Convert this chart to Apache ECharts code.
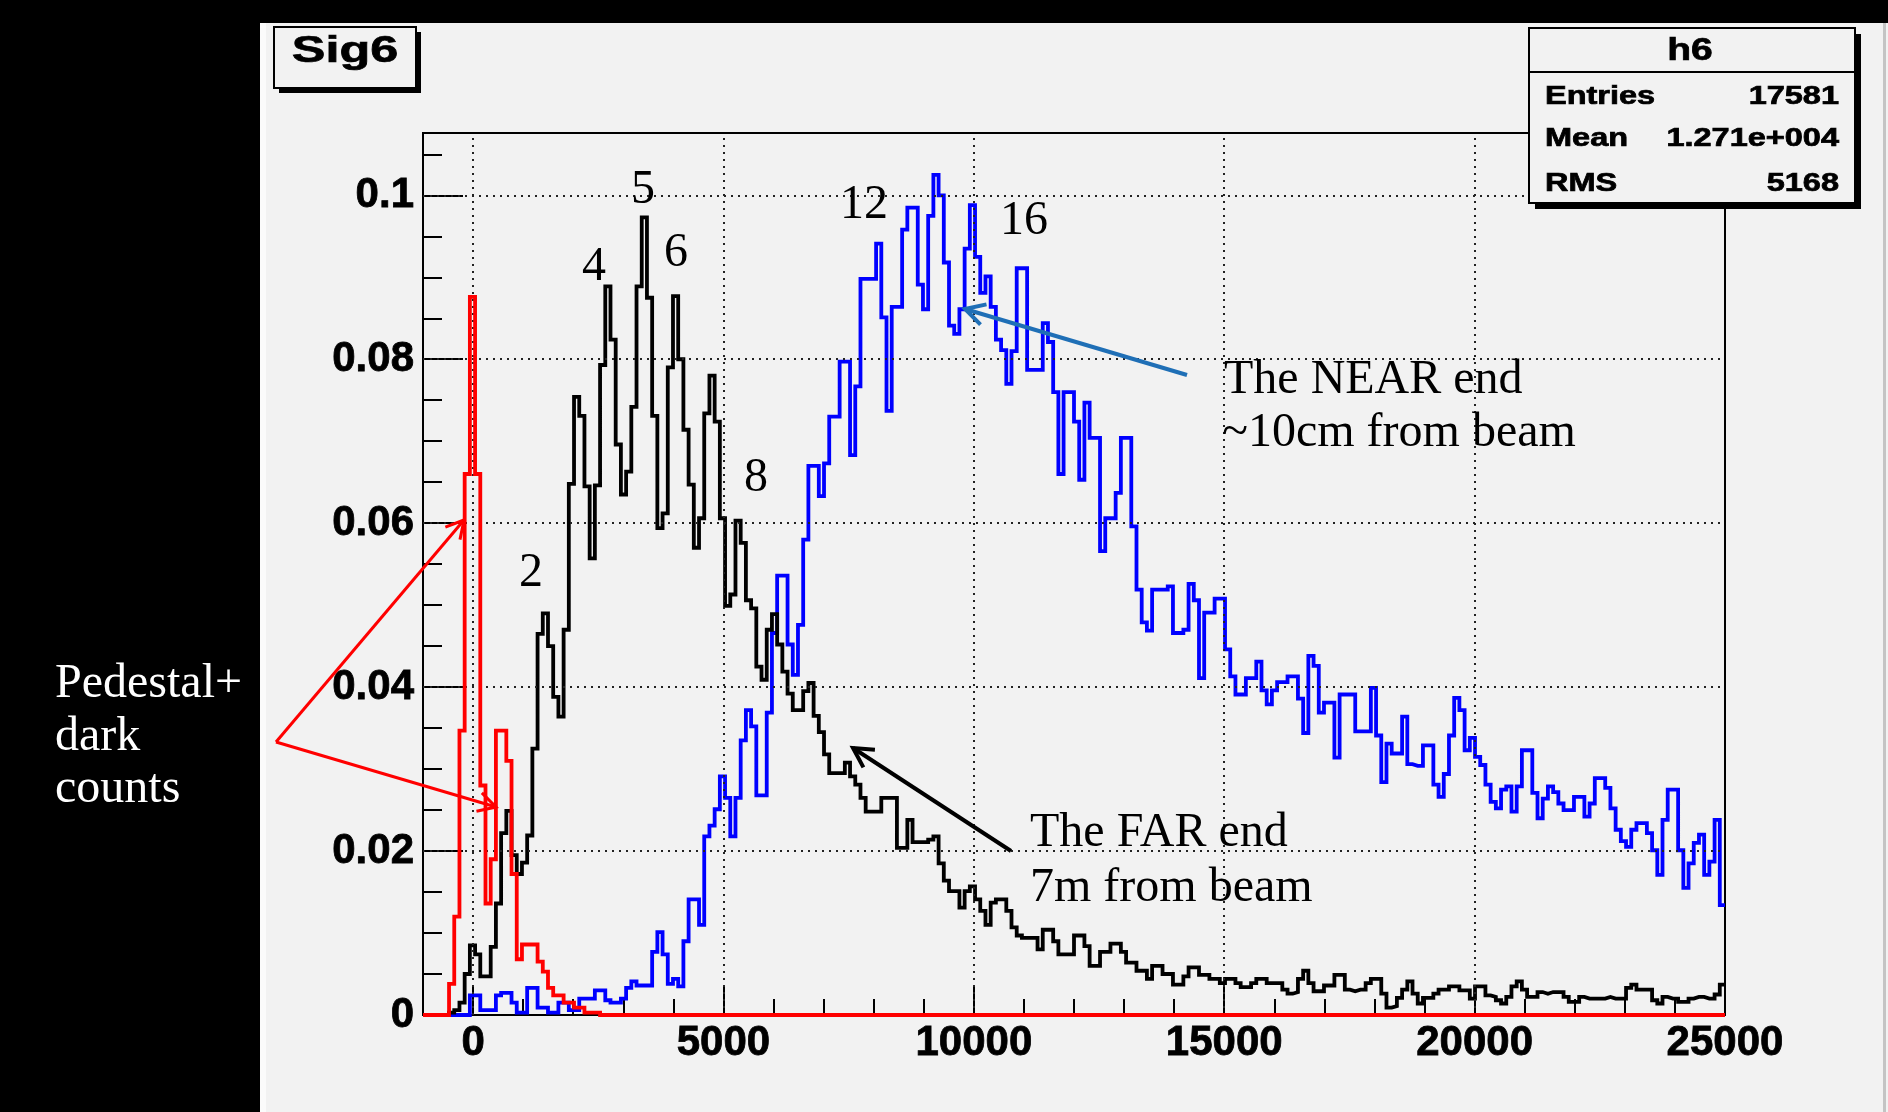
<!DOCTYPE html>
<html>
<head>
<meta charset="utf-8">
<script src="https://cdn.jsdelivr.net/npm/echarts@6/dist/echarts.min.js"></script>
<style>
html,body{margin:0;padding:0;background:#000;overflow:hidden;}
#c{width:1888px;height:1112px;}
</style>
</head>
<body>
<div id="c"></div>
<script>
// ---------------- data ----------------
const X_MIN = -1000, X_MAX = 25000, BIN_WIDTH = 104;
const Y_MIN = 0, Y_MAX = 0.1076;
const xTickLabels = ['0', '5000', '10000', '15000', '20000', '25000'];
const yTickLabels = ['0', '0.02', '0.04', '0.06', '0.08', '0.1'];
const histTitle = 'Sig6';
const statsName = 'h6';
const statsKeys = ['Entries', 'Mean', 'RMS'];
const statsValues = ['17581', '1.271e+004', '5168'];
const peakLabels = ['2', '4', '5', '6', '8', '12', '16'];

// red: pedestal + dark counts (250 bins of 104 from -1000)
const pedestalRed = [
0,0,0,0,0,0.0038,0.012,0.0347,0.066,0.0876,
0.066,0.028,0.0136,0.019,0.0347,0.0347,0.031,0.0172,0.0068,0.0086,
0.0086,0.0086,0.0065,0.0053,0.0033,0.0024,0.0024,0.0015,0.0015,0.0009,
0.0009,0.0003,0.0003,0.0003,0,0,0,0,0,0,
0,0,0,0,0,0,0,0,0,0,0,0,0,0,0,0,0,0,0,0,0,0,0,0,0,0,0,0,0,0,
0,0,0,0,0,0,0,0,0,0,0,0,0,0,0,0,0,0,0,0,0,0,0,0,0,0,0,0,0,0,
0,0,0,0,0,0,0,0,0,0,0,0,0,0,0,0,0,0,0,0,0,0,0,0,0,0,0,0,0,0,
0,0,0,0,0,0,0,0,0,0,0,0,0,0,0,0,0,0,0,0,0,0,0,0,0,0,0,0,0,0,
0,0,0,0,0,0,0,0,0,0,0,0,0,0,0,0,0,0,0,0,0,0,0,0,0,0,0,0,0,0,
0,0,0,0,0,0,0,0,0,0,0,0,0,0,0,0,0,0,0,0,0,0,0,0,0,0,0,0,0,0,
0,0,0,0,0,0,0,0,0,0,0,0,0,0,0,0,0,0,0,0,0,0,0,0,0,0,0,0,0,0
];
// black: the FAR end, 7m from beam
const farEndBlack = [
0,0,0,0,0,0.0003,0.0006,0.0015,0.005,0.0085,
0.0074,0.0047,0.0047,0.0083,0.0136,0.0222,0.0249,0.0195,0.0172,0.0186,
0.0219,0.0325,0.0465,0.049,0.045,0.0388,0.0364,0.047,0.0648,0.0754,
0.0731,0.0645,0.0557,0.0646,0.0793,0.0889,0.0824,0.0696,0.0635,0.0663,
0.0742,0.0889,0.0973,0.0875,0.0731,0.0594,0.0612,0.079,0.0877,0.080,
0.0714,0.0647,0.057,0.0606,0.0734,0.078,0.0724,0.0606,0.0499,0.0513,
0.0603,0.0576,0.0506,0.0496,0.0425,0.0409,0.047,0.0489,0.0452,0.0419,
0.0392,0.0372,0.0372,0.0395,0.0405,0.0365,0.0345,0.0318,0.0295,0.0295,
0.0295,0.0308,0.0291,0.0281,0.0265,0.0248,0.0248,0.0248,0.0265,0.0265,
0.0265,0.0204,0.0204,0.0238,0.0211,0.0211,0.0211,0.0214,0.0218,0.0185,
0.0164,0.0151,0.0151,0.0131,0.0151,0.0157,0.0141,0.0127,0.011,0.0137,
0.0141,0.0141,0.0127,0.0107,0.0097,0.0094,0.0094,0.0094,0.008,0.0104,
0.0104,0.009,0.0074,0.0074,0.0074,0.0097,0.0097,0.0084,0.006,0.006,
0.0077,0.0077,0.0087,0.0087,0.0077,0.0064,0.0064,0.0054,0.0054,0.0044,
0.006,0.006,0.005,0.005,0.0037,0.0037,0.0047,0.0058,0.0058,0.0049,
0.0049,0.0044,0.0044,0.0039,0.0044,0.0044,0.0039,0.0034,0.0034,0.0039,
0.0044,0.0044,0.0039,0.0039,0.0039,0.0031,0.0026,0.0028,0.0044,0.0054,
0.0039,0.0029,0.0029,0.0036,0.0036,0.0049,0.0049,0.0031,0.0029,0.0031,
0.0031,0.0039,0.0044,0.0044,0.0026,0.0009,0.0011,0.0021,0.0031,0.0041,
0.0026,0.0014,0.0021,0.0021,0.0026,0.0031,0.0031,0.0035,0.0035,0.003,
0.003,0.002,0.0035,0.0035,0.0024,0.0022,0.0018,0.0014,0.0022,0.0035,
0.0041,0.0031,0.0022,0.0022,0.0028,0.0026,0.0028,0.0028,0.0028,0.0022,
0.0016,0.0016,0.0022,0.002,0.002,0.002,0.002,0.0022,0.002,0.002,
0.002,0.0033,0.0037,0.0031,0.0031,0.0031,0.0018,0.0014,0.0022,0.002,
0.002,0.0016,0.0016,0.002,0.0022,0.0022,0.002,0.002,0.0025,0.0037
];
// blue: the NEAR end, ~10cm from beam
const nearEndBlue = [
0,0,0,0,0,0,0,0,0,0.0024,
0.0024,0.0006,0.0006,0.0006,0.0024,0.0027,0.0027,0.0015,0.0003,0.0003,
0.0033,0.0033,0.0009,0.0009,0.0003,0.0003,0.0015,0.0015,0.0006,0.0006,
0.002,0.002,0.002,0.003,0.003,0.0018,0.0015,0.0015,0.002,0.0033,
0.0041,0.0036,0.0036,0.0036,0.0077,0.0101,0.0074,0.0038,0.0044,0.0035,
0.009,0.0141,0.0141,0.011,0.0218,0.0231,0.0251,0.0291,0.0265,0.0218,
0.0265,0.0335,0.0372,0.0352,0.0268,0.0268,0.0369,0.0466,0.0536,0.0536,
0.0452,0.0415,0.0476,0.058,0.067,0.067,0.0633,0.0673,0.073,0.073,
0.0797,0.0797,0.0683,0.0767,0.0898,0.0898,0.0898,0.0941,0.0851,0.0737,
0.0864,0.0864,0.0958,0.0985,0.0985,0.0891,0.0861,0.0975,0.1025,0.1,
0.0918,0.0841,0.0831,0.0861,0.0935,0.0988,0.0925,0.0881,0.0901,0.0864,
0.0824,0.0811,0.077,0.081,0.0911,0.0911,0.0787,0.0787,0.0787,0.0844,
0.0821,0.076,0.066,0.076,0.076,0.0724,0.0653,0.0747,0.0704,0.0704,
0.0566,0.0606,0.0606,0.0637,0.0704,0.0704,0.0596,0.0519,0.0479,0.0469,
0.0519,0.0519,0.0519,0.0523,0.0466,0.0466,0.047,0.0526,0.0506,0.0411,
0.0491,0.0491,0.0508,0.0508,0.0446,0.0413,0.0391,0.0391,0.0411,0.0411,
0.0431,0.0396,0.0379,0.0396,0.0406,0.0406,0.0413,0.0413,0.0386,0.0344,
0.0438,0.0426,0.0369,0.0381,0.0381,0.0314,0.0391,0.0391,0.0391,0.0346,
0.0346,0.0346,0.0399,0.0341,0.0284,0.0331,0.0319,0.0319,0.0364,0.0306,
0.0304,0.0304,0.0329,0.0329,0.0281,0.0266,0.0294,0.0341,0.0387,0.0372,
0.0323,0.0338,0.0315,0.0305,0.0281,0.026,0.0252,0.0275,0.0279,0.0248,
0.0279,0.0323,0.0323,0.0271,0.024,0.0264,0.0279,0.0272,0.0258,0.025,
0.025,0.0266,0.0266,0.0242,0.0258,0.0289,0.0289,0.0277,0.0252,0.0226,
0.0212,0.0205,0.0226,0.0234,0.0234,0.0222,0.0201,0.0171,0.0238,0.0275,
0.0275,0.0201,0.0155,0.0185,0.021,0.022,0.0171,0.0187,0.0238,0.0134
];

// ---------------- layout / style ----------------
const SANS = '"Liberation Sans", Arial, sans-serif';
const SERIF = '"Liberation Serif", "Times New Roman", serif';
const PANEL_BG = '#f2f2f2';
const GRID = {left: 423, top: 133, width: 1302, height: 882};
const HIST_LINE_WIDTH = 3.8;
const peakLabelPos = [[531,573],[594,267],[643,190],[676,253],[756,478],[864,205],[1024,221]];

function stepPoints(vals) {
  const pts = vals.map((v, i) => [X_MIN + i * BIN_WIDTH, v]);
  pts.push([X_MIN + vals.length * BIN_WIDTH, vals[vals.length - 1]]);
  return pts;
}
function histSeries(name, vals, color, z) {
  return {
    name, type: 'line', step: 'end', data: stepPoints(vals),
    symbol: 'none', showSymbol: false, clip: true, silent: true, z,
    lineStyle: {color, width: HIST_LINE_WIDTH, join: 'miter', cap: 'butt'},
    emphasis: {disabled: true}, animation: false
  };
}
function arrow(x1, y1, x2, y2, color, width, headLen) {
  const ang = Math.atan2(y2 - y1, x2 - x1), a = 0.5;
  const h1 = [x2 - headLen * Math.cos(ang - a), y2 - headLen * Math.sin(ang - a)];
  const h2 = [x2 - headLen * Math.cos(ang + a), y2 - headLen * Math.sin(ang + a)];
  return [
    {type: 'polyline', z: 100, silent: true, shape: {points: [[x1, y1], [x2, y2]]},
     style: {stroke: color, lineWidth: width, fill: null}},
    {type: 'polyline', z: 100, silent: true, shape: {points: [h1, [x2, y2], h2]},
     style: {stroke: color, lineWidth: width, fill: null, lineJoin: 'miter'}}
  ];
}
function txt(text, x, y, opts) {
  return Object.assign({type: 'text', x, y, z: 100, silent: true,
    style: Object.assign({text, fill: '#000', verticalAlign: 'middle', align: 'left',
      fontFamily: SERIF, fontSize: 48}, opts.style || {})}, opts.el || {});
}
const boldSans = (size, extra) => Object.assign({fontFamily: SANS, fontWeight: 'bold', fontSize: size,
  stroke: '#000', lineWidth: 0.7}, extra || {});

const xTickValues = xTickLabels.map(Number);
const yTickValues = yTickLabels.map(Number);
const lineBlack = {color: '#000', width: 2};
const tickLabelStyle = {color: '#000', fontFamily: SANS, fontWeight: 'bold', fontSize: 42,
  textBorderColor: '#000', textBorderWidth: 0.8};

const graphics = [];
// panel background
graphics.push({type: 'rect', z: -100, silent: true, shape: {x: 260, y: 23, width: 1628, height: 1089}, style: {fill: PANEL_BG}});
graphics.push({type: 'rect', z: -99, silent: true, shape: {x: 260, y: 23, width: 6, height: 1089}, style: {fill: '#fbfbfb'}});
graphics.push({type: 'rect', z: -99, silent: true, shape: {x: 1883, y: 23, width: 3, height: 1089}, style: {fill: '#c4c4c4'}});
// title box
graphics.push({type: 'rect', z: 90, silent: true, shape: {x: 279, y: 32, width: 142, height: 61}, style: {fill: '#000'}});
graphics.push({type: 'rect', z: 91, silent: true, shape: {x: 274, y: 27, width: 142, height: 61}, style: {fill: PANEL_BG, stroke: '#000', lineWidth: 2}});
graphics.push(txt(histTitle, 345, 52, {el: {scaleX: 1.36}, style: boldSans(37, {align: 'center'})}));
// stats box
graphics.push({type: 'rect', z: 90, silent: true, shape: {x: 1535, y: 34, width: 326, height: 175}, style: {fill: '#000'}});
graphics.push({type: 'rect', z: 91, silent: true, shape: {x: 1529, y: 28, width: 326, height: 175}, style: {fill: PANEL_BG, stroke: '#000', lineWidth: 2}});
graphics.push({type: 'line', z: 92, silent: true, shape: {x1: 1529, y1: 72, x2: 1855, y2: 72}, style: {stroke: '#000', lineWidth: 2}});
graphics.push(txt(statsName, 1690, 51, {el: {scaleX: 1.22}, style: boldSans(32, {align: 'center'})}));
const statsRowY = [97, 139, 184];
statsKeys.forEach((k, i) => {
  graphics.push(txt(k, 1545, statsRowY[i], {el: {scaleX: 1.3}, style: boldSans(25)}));
  graphics.push(txt(statsValues[i], 1839, statsRowY[i], {el: {scaleX: 1.3}, style: boldSans(25, {align: 'right'})}));
});
// peak labels
peakLabels.forEach((t, i) => {
  graphics.push(txt(t, peakLabelPos[i][0], peakLabelPos[i][1], {style: {align: 'center'}}));
});
// annotations
graphics.push(txt('The NEAR end', 1224, 380, {}));
graphics.push(txt('~10cm from beam', 1222, 433, {}));
graphics.push(txt('The FAR end', 1030, 833, {}));
graphics.push(txt('7m from beam', 1030, 888, {}));
graphics.push(txt('Pedestal+', 55, 684, {style: {fill: '#fff'}}));
graphics.push(txt('dark', 55, 737, {style: {fill: '#fff'}}));
graphics.push(txt('counts', 55, 789, {style: {fill: '#fff'}}));
// arrows
graphics.push(...arrow(1187, 375, 965, 309, '#1f6fb6', 4, 22));
graphics.push(...arrow(1011, 851, 853, 748, '#000', 4, 22));
graphics.push(...arrow(276, 742, 464, 520, '#ff0000', 3, 20));
graphics.push(...arrow(276, 742, 496, 807, '#ff0000', 3, 20));

const option = {
  animation: false,
  backgroundColor: 'transparent',
  grid: Object.assign({show: true, borderColor: '#000', borderWidth: 2, backgroundColor: 'transparent',
    containLabel: false, outerBoundsMode: 'none'}, GRID),
  xAxis: [
    {type: 'value', min: X_MIN, max: X_MAX, interval: 1000, position: 'bottom',
     axisLine: {show: true, onZero: false, lineStyle: lineBlack},
     axisTick: {show: true, inside: true, length: 16, lineStyle: lineBlack},
     axisLabel: {show: false}, splitLine: {show: false}},
    {type: 'value', min: X_MIN, max: X_MAX, position: 'bottom',
     axisLine: {show: false, onZero: false},
     axisTick: {show: true, inside: true, length: 30, customValues: xTickValues, lineStyle: lineBlack},
     axisLabel: Object.assign({show: true, customValues: xTickValues, margin: 7,
       formatter: v => { const i = xTickValues.indexOf(v); return i >= 0 ? xTickLabels[i] : ''; }}, tickLabelStyle),
     splitLine: {show: false}}
  ],
  yAxis: [
    {type: 'value', min: Y_MIN, max: Y_MAX, interval: 0.02, position: 'left',
     axisLine: {show: true, onZero: false, lineStyle: lineBlack},
     axisTick: {show: true, inside: true, length: 40, lineStyle: lineBlack},
     minorTick: {show: true, splitNumber: 4, length: 19, lineStyle: lineBlack},
     axisLabel: Object.assign({show: true, margin: 9, showMinLabel: true, showMaxLabel: true,
       formatter: v => { const i = yTickValues.findIndex(t => Math.abs(t - v) < 1e-9); return i >= 0 ? yTickLabels[i] : ''; }}, tickLabelStyle),
     splitLine: {show: false}, minorSplitLine: {show: false}}
  ],
  series: [
    {type: 'line', data: [], z: 1, silent: true, xAxisIndex: 0, yAxisIndex: 0,
     markLine: {silent: true, symbol: ['none', 'none'], label: {show: false}, animation: false,
       lineStyle: {type: [2, 5], width: 2, color: '#222'},
       emphasis: {disabled: true},
       data: xTickValues.filter(v => v > X_MIN && v < X_MAX).map(v => ({xAxis: v}))
         .concat(yTickValues.filter(v => v > Y_MIN && v < Y_MAX).map(v => ({yAxis: v})))}},
    histSeries('near', nearEndBlue, '#0000ff', 3),
    histSeries('far', farEndBlack, '#000000', 4),
    histSeries('pedestal', pedestalRed, '#ff0000', 5)
  ],
  graphic: {elements: graphics}
};

const chart = echarts.init(document.getElementById('c'), null, {renderer: 'canvas', width: 1888, height: 1112});
chart.setOption(option);
</script>
</body>
</html>
